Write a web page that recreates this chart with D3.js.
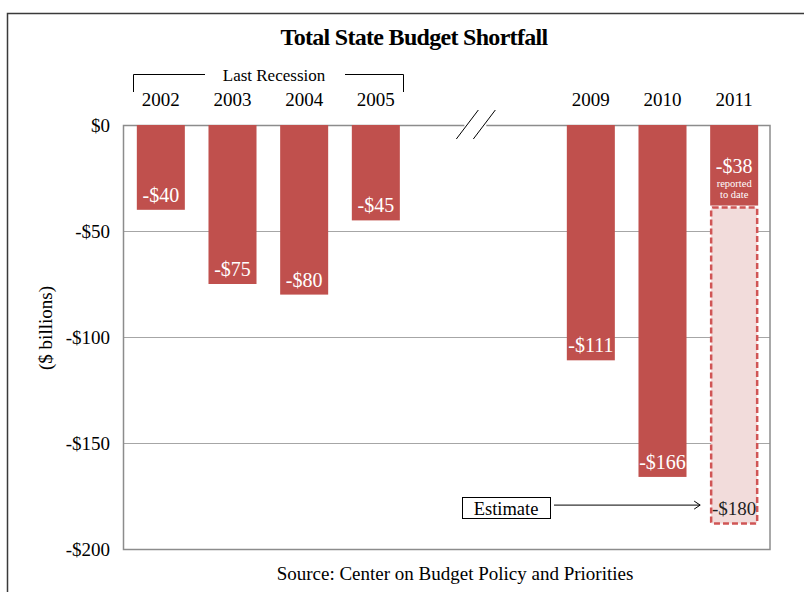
<!DOCTYPE html>
<html>
<head>
<meta charset="utf-8">
<script src="https://cdn.jsdelivr.net/npm/d3@7"></script>
<style>
  body { margin: 0; background: #fff; }
  text { font-family: "Liberation Serif", "Times New Roman", serif; }
</style>
</head>
<body>
<div id="viz"></div>
<script>
// slots on the x axis, the two gap slots hold the axis break
const slots = ["2002", "2003", "2004", "2005", "gap1", "gap2", "2009", "2010", "2011"];
const years = ["2002", "2003", "2004", "2005", "2009", "2010", "2011"];
const shortfall = [-40, -75, -80, -45, -111, -166, -38];
const estimateYear = "2011";
const estimateValue = -180;
const yTicks = [0, -50, -100, -150, -200];

const width = 804, height = 592;
const red = "#C0504D";

const svg = d3.select("#viz")
    .append("svg")
    .attr("width", width)
    .attr("height", height);

// outer frame (only top and left show in the picture)
svg.append("path")
    .attr("d", "M7.5,600 V13.5 H820")
    .attr("fill", "none")
    .attr("stroke", "#3a3a3a")
    .attr("stroke-width", 1.5);

const xScale = d3.scaleBand()
    .domain(slots)
    .range([125, 770])
    .paddingInner(0.33)
    .paddingOuter(0.165);

const yScale = d3.scaleLinear()
    .domain([-200, 0])
    .range([549, 125]);

// title
svg.append("text")
    .attr("x", 414)
    .attr("y", 45)
    .attr("text-anchor", "middle")
    .attr("font-size", 24)
    .attr("font-weight", "bold")
    .attr("letter-spacing", -0.7)
    .text("Total State Budget Shortfall");

// grid lines
svg.selectAll(".grid")
    .data(yTicks.filter(d => d !== 0 && d !== -200))
    .enter()
    .append("line")
    .attr("x1", 123)
    .attr("x2", 770)
    .attr("y1", d => yScale(d) + 0.5)
    .attr("y2", d => yScale(d) + 0.5)
    .attr("stroke", "#a6a6a6")
    .attr("stroke-width", 1);

// plot frame
svg.append("rect")
    .attr("x", 123.5)
    .attr("y", yScale(0) + 0.5)
    .attr("width", 770 - 123.5)
    .attr("height", yScale(-200) - yScale(0))
    .attr("fill", "none")
    .attr("stroke", "#8c8c8c")
    .attr("stroke-width", 1.5);

// y axis labels
const yAxis = d3.axisLeft(yScale)
    .tickValues(yTicks)
    .tickSize(0)
    .tickPadding(13)
    .tickFormat(d => d === 0 ? "$0" : "-$" + Math.abs(d));

const yG = svg.append("g")
    .attr("transform", "translate(123,0)")
    .call(yAxis);
yG.select(".domain").remove();
yG.selectAll("text")
    .attr("font-size", 19)
    .attr("fill", "#000");

svg.append("text")
    .attr("transform", "translate(52,328) rotate(-90)")
    .attr("text-anchor", "middle")
    .attr("font-size", 19)
    .text("($ billions)");

// year labels along the top
const xAxis = d3.axisTop(xScale)
    .tickSize(0)
    .tickPadding(0)
    .tickFormat(d => d.startsWith("gap") ? "" : d);

const xG = svg.append("g")
    .attr("transform", "translate(0,106)")
    .call(xAxis);
xG.select(".domain").remove();
xG.selectAll("text")
    .attr("font-size", 19)
    .attr("fill", "#000");

// Last Recession bracket
const bx0 = 133, bx1 = 403;
svg.append("path")
    .attr("d", `M${bx0 + 0.5},92 V74.5 H205 M345,74.5 H${bx1 + 0.5} V92`)
    .attr("fill", "none")
    .attr("stroke", "#000")
    .attr("stroke-width", 1);
svg.append("text")
    .attr("x", 274)
    .attr("y", 81)
    .attr("text-anchor", "middle")
    .attr("font-size", 17)
    .text("Last Recession");

// axis break
const gapMid = (xScale("gap1") + xScale("gap2") + xScale.bandwidth()) / 2 - 8;
svg.append("rect")
    .attr("x", gapMid - 11)
    .attr("y", yScale(0) - 2)
    .attr("width", 22)
    .attr("height", 4)
    .attr("fill", "#fff");
[-8, 9].forEach(off => {
    svg.append("line")
        .attr("x1", gapMid + off - 11)
        .attr("y1", yScale(0) + 14)
        .attr("x2", gapMid + off + 11)
        .attr("y2", yScale(0) - 15)
        .attr("stroke", "#000")
        .attr("stroke-width", 1);
});

// estimate box for 2011 (dashed)
const ex = xScale(estimateYear);
const lastVal = shortfall[years.indexOf(estimateYear)];
svg.append("rect")
    .attr("x", ex + 1)
    .attr("y", yScale(lastVal) + 2)
    .attr("width", xScale.bandwidth() - 2)
    .attr("height", yScale(estimateValue) - yScale(lastVal) + 15)
    .attr("fill", "#F2DCDB")
    .attr("stroke", "#D05555")
    .attr("stroke-width", 2.5)
    .attr("stroke-dasharray", "6,3")
    .attr("rx", 1.5);

// bars
const data = years.map((y, i) => ({ year: y, value: shortfall[i] }));
svg.selectAll(".bar")
    .data(data)
    .enter()
    .append("rect")
    .attr("class", "bar")
    .attr("x", d => xScale(d.year))
    .attr("y", yScale(0))
    .attr("width", xScale.bandwidth())
    .attr("height", d => yScale(d.value) - yScale(0))
    .attr("fill", red);

// value labels
svg.selectAll(".lbl")
    .data(data.filter(d => d.year !== estimateYear))
    .enter()
    .append("text")
    .attr("class", "lbl")
    .attr("x", d => xScale(d.year) + xScale.bandwidth() / 2)
    .attr("y", d => yScale(d.value) - 8)
    .attr("text-anchor", "middle")
    .attr("font-size", 20)
    .attr("fill", "#fff")
    .text(d => "-$" + Math.abs(d.value));

const ecx = ex + xScale.bandwidth() / 2;
svg.append("text")
    .attr("x", ecx)
    .attr("y", yScale(lastVal) - 33)
    .attr("text-anchor", "middle")
    .attr("font-size", 20)
    .attr("fill", "#fff")
    .text("-$" + Math.abs(lastVal));
svg.append("text")
    .attr("x", ecx)
    .attr("y", yScale(lastVal) - 19)
    .attr("text-anchor", "middle")
    .attr("font-size", 10.5)
    .attr("fill", "#fff")
    .text("reported");
svg.append("text")
    .attr("x", ecx)
    .attr("y", yScale(lastVal) - 8)
    .attr("text-anchor", "middle")
    .attr("font-size", 10.5)
    .attr("fill", "#fff")
    .text("to date");
svg.append("text")
    .attr("x", ecx)
    .attr("y", yScale(estimateValue) + 8)
    .attr("text-anchor", "middle")
    .attr("font-size", 19)
    .attr("fill", "#222")
    .text("-$" + Math.abs(estimateValue));

// Estimate callout with arrow
const ey = yScale(estimateValue) - 1.5;
svg.append("rect")
    .attr("x", 462.5)
    .attr("y", 497.5)
    .attr("width", 88)
    .attr("height", 21)
    .attr("fill", "#fff")
    .attr("stroke", "#000")
    .attr("stroke-width", 1);
svg.append("text")
    .attr("x", 506)
    .attr("y", 515)
    .attr("text-anchor", "middle")
    .attr("font-size", 18.5)
    .text("Estimate");
svg.append("path")
    .attr("d", `M554,${ey} H${ex - 10} M${ex - 16},${ey - 4} L${ex - 10},${ey} L${ex - 16},${ey + 4}`)
    .attr("fill", "none")
    .attr("stroke", "#000")
    .attr("stroke-width", 1);

// source
svg.append("text")
    .attr("x", 455)
    .attr("y", 580)
    .attr("text-anchor", "middle")
    .attr("font-size", 19)
    .text("Source: Center on Budget Policy and Priorities");
</script>
</body>
</html>
